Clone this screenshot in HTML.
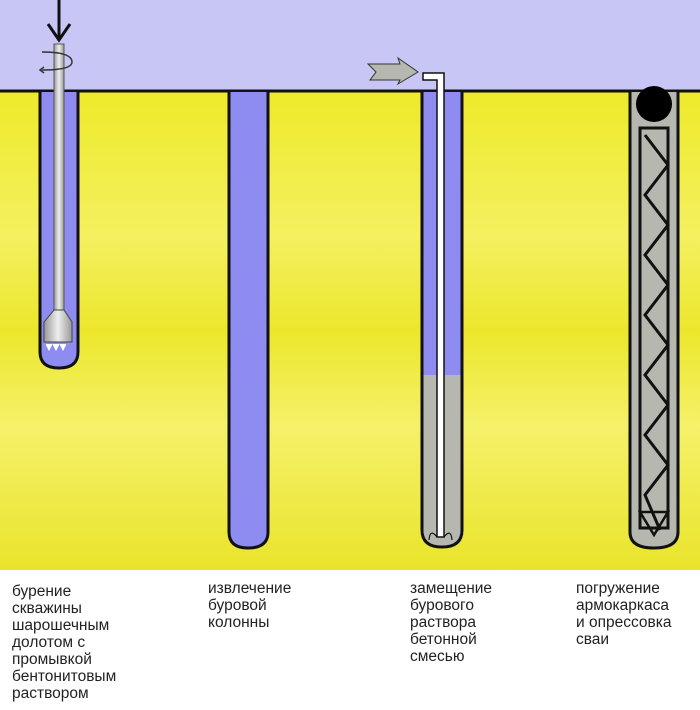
<!DOCTYPE html>
<html><head><meta charset="utf-8"><style>
body{margin:0;width:700px;height:710px;background:#fff;overflow:hidden;font-family:"Liberation Sans",sans-serif}
.t{position:absolute;font-size:15.5px;line-height:17px;color:#222}
</style></head><body>
<svg width="700" height="710" style="position:absolute;left:0;top:0">
<defs>
<linearGradient id="y" x1="0" y1="0" x2="0" y2="1">
<stop offset="0" stop-color="#eeea2a"/><stop offset="0.3" stop-color="#f4f060"/><stop offset="0.5" stop-color="#ece72c"/><stop offset="0.7" stop-color="#f5f16a"/><stop offset="1" stop-color="#e9e42a"/>
</linearGradient>
<linearGradient id="rod" x1="0" x2="1"><stop offset="0" stop-color="#999"/><stop offset="0.5" stop-color="#eee"/><stop offset="1" stop-color="#999"/></linearGradient>
</defs>
<rect x="0" y="0" width="700" height="92" fill="#c8c6f4"/>
<rect x="0" y="92" width="700" height="478" fill="url(#y)"/>
<line x1="0" y1="91" x2="700" y2="91" stroke="#111" stroke-width="3"/>
<!-- hole 1 -->
<path d="M40 92 V352 Q40 368 59 368 Q78 368 78 352 V92" fill="#8e8cf0" stroke="#111" stroke-width="3"/>
<rect x="54" y="44" width="10" height="268" fill="url(#rod)" stroke="#555" stroke-width="1"/>
<path d="M54 310 L64 310 L72 322 L72 342 L44 342 L44 322 Z" fill="url(#rod)" stroke="#444"/>
<path d="M46 344 l3 6 l3 -6 M53 344 l3 6 l3 -6 M60 344 l3 6 l3 -6" fill="#fff" stroke="#fff"/>
<line x1="59" y1="0" x2="59" y2="40" stroke="#111" stroke-width="3"/>
<path d="M48 24 L59 40 L70 24" fill="none" stroke="#111" stroke-width="3"/>
<path d="M42 52 Q72 52 72 62 Q72 70 42 70" fill="none" stroke="#333" stroke-width="1.5"/>
<path d="M44 67 L40 70 L44 73" fill="none" stroke="#333" stroke-width="1.5"/>
<!-- hole 2 -->
<path d="M229 92 V532 Q229 548 248 548 Q268 548 268 532 V92" fill="#8e8cf0" stroke="#111" stroke-width="3"/>
<!-- hole 3 -->
<path d="M422 92 V530 Q422 547 442 547 Q462 547 462 530 V92" fill="#8e8cf0" stroke="#111" stroke-width="3"/>
<path d="M423.5 375 H460.5 V530 Q460.5 545.5 442 545.5 Q423.5 545.5 423.5 530 Z" fill="#b6b8b0"/>
<path d="M423 73 H444 V537 H437 V80 H423 Z" fill="#fff" stroke="#111" stroke-width="1.5"/>
<path d="M437 537 Q430 528 429 540 M444 537 Q451 528 452 540" fill="none" stroke="#111" stroke-width="1.2"/>
<path d="M368 64 L400 64 L398 58 L418 72 L398 84 L400 80 L370 80 L376 72 Z" fill="#b6b8b0" stroke="#333"/>
<!-- hole 4 -->
<path d="M630 92 V532 Q630 548 654 548 Q678 548 678 532 V92" fill="#b6b8b0" stroke="#111" stroke-width="3"/>
<circle cx="654" cy="104" r="18" fill="#000"/>
<rect x="640" y="128" width="28" height="400" fill="none" stroke="#111" stroke-width="3"/>
<path d="M645 135 L668 165 L645 195 L668 225 L645 255 L668 285 L645 315 L668 345 L645 375 L668 405 L645 435 L668 465 L645 495 L660 530" fill="none" stroke="#111" stroke-width="3"/>
<path d="M640 512 L668 512 L654 535 Z" fill="none" stroke="#111" stroke-width="2.5"/>
</svg>
<div class="t" style="left:12px;top:583px">бурение<br>скважины<br>шарошечным<br>долотом с<br>промывкой<br>бентонитовым<br>раствором</div>
<div class="t" style="left:208px;top:580px">извлечение<br>буровой<br>колонны</div>
<div class="t" style="left:410px;top:580px">замещение<br>бурового<br>раствора<br>бетонной<br>смесью</div>
<div class="t" style="left:576px;top:580px">погружение<br>армокаркаса<br>и опрессовка<br>сваи</div>
</body></html>
